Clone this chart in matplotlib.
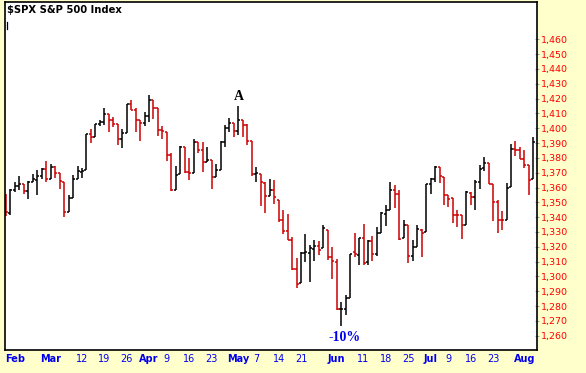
import matplotlib
matplotlib.use('Agg')
import matplotlib.pyplot as plt
from matplotlib.collections import LineCollection

# ---------------- data (S&P 500 daily bars, 2012) ----------------
dates = ['02-15', '02-16', '02-17', '02-21', '02-22', '02-23', '02-24', '02-27', '02-28', '02-29',
         '03-01', '03-02', '03-05', '03-06', '03-07', '03-08', '03-09', '03-12', '03-13', '03-14',
         '03-15', '03-16', '03-19', '03-20', '03-21', '03-22', '03-23', '03-26', '03-27', '03-28',
         '03-29', '03-30', '04-02', '04-03', '04-04', '04-05', '04-09', '04-10', '04-11', '04-12',
         '04-13', '04-16', '04-17', '04-18', '04-19', '04-20', '04-23', '04-24', '04-25', '04-26',
         '04-27', '04-30', '05-01', '05-02', '05-03', '05-04', '05-07', '05-08', '05-09', '05-10',
         '05-11', '05-14', '05-15', '05-16', '05-17', '05-18', '05-21', '05-22', '05-23', '05-24',
         '05-25', '05-29', '05-30', '05-31', '06-01', '06-04', '06-05', '06-06', '06-07', '06-08',
         '06-11', '06-12', '06-13', '06-14', '06-15', '06-18', '06-19', '06-20', '06-21', '06-22',
         '06-25', '06-26', '06-27', '06-28', '06-29', '07-02', '07-03', '07-05', '07-06', '07-09',
         '07-10', '07-11', '07-12', '07-13', '07-16', '07-17', '07-18', '07-19', '07-20', '07-23',
         '07-24', '07-25', '07-26', '07-27', '07-30', '07-31', '08-01', '08-02', '08-03']

opens = [1350.5, 1342.6, 1358.1, 1361.2, 1362.1, 1357.5, 1363.5, 1365.2, 1367.6, 1372.2,
         1365.9, 1374.1, 1369.6, 1363.6, 1343.4, 1352.7, 1366.0, 1370.8, 1371.9, 1396.0,
         1394.2, 1402.6, 1404.2, 1409.6, 1405.5, 1402.9, 1392.8, 1397.1, 1416.6, 1412.5,
         1405.4, 1403.3, 1408.5, 1419.0, 1413.4, 1399.0, 1397.5, 1382.2, 1358.6, 1368.8,
         1387.6, 1370.3, 1369.6, 1390.8, 1385.1, 1376.9, 1378.5, 1366.9, 1372.1, 1390.6,
         1400.2, 1403.3, 1397.9, 1405.5, 1402.3, 1391.5, 1368.8, 1369.2, 1363.2, 1354.6,
         1358.1, 1351.9, 1338.4, 1330.8, 1324.8, 1305.1, 1295.7, 1316.1, 1316.0, 1318.7,
         1320.8, 1318.9, 1331.3, 1313.1, 1309.9, 1278.3, 1277.8, 1285.6, 1316.2, 1314.6,
         1325.7, 1309.4, 1324.0, 1314.9, 1329.2, 1342.4, 1344.8, 1358.0, 1355.4, 1325.9,
         1334.9, 1314.1, 1320.0, 1331.5, 1330.1, 1362.3, 1365.8, 1373.7, 1367.1, 1354.7,
         1353.0, 1341.4, 1341.4, 1334.8, 1356.5, 1353.7, 1363.6, 1373.0, 1376.5, 1362.3,
         1350.5, 1338.4, 1338.2, 1360.1, 1386.0, 1385.3, 1379.3, 1375.1, 1365.5]

highs = [1355.9, 1359.0, 1363.4, 1367.8, 1362.7, 1364.2, 1368.9, 1371.9, 1373.1, 1378.0,
         1376.2, 1374.5, 1369.6, 1363.6, 1354.9, 1368.7, 1374.8, 1373.0, 1396.1, 1399.4,
         1402.6, 1405.9, 1414.0, 1409.6, 1407.8, 1402.9, 1399.2, 1416.6, 1419.2, 1413.7,
         1405.4, 1410.9, 1422.4, 1419.0, 1413.4, 1401.6, 1397.5, 1383.0, 1374.7, 1388.1,
         1387.6, 1379.7, 1392.8, 1390.8, 1390.4, 1387.4, 1378.5, 1375.6, 1391.4, 1402.1,
         1406.6, 1403.3, 1415.3, 1405.5, 1403.1, 1391.5, 1373.9, 1369.2, 1363.7, 1365.9,
         1365.2, 1351.9, 1345.0, 1341.8, 1326.4, 1312.2, 1316.4, 1328.5, 1321.5, 1324.3,
         1324.2, 1334.9, 1331.5, 1319.9, 1311.5, 1282.6, 1287.6, 1315.3, 1329.1, 1325.9,
         1335.6, 1324.3, 1327.3, 1333.6, 1343.3, 1348.2, 1363.5, 1361.6, 1358.3, 1337.8,
         1334.9, 1324.4, 1334.4, 1331.8, 1362.2, 1366.4, 1374.8, 1373.9, 1367.1, 1354.7,
         1352.6, 1345.0, 1341.4, 1357.7, 1357.3, 1365.4, 1375.3, 1380.4, 1376.5, 1362.3,
         1351.5, 1344.0, 1363.1, 1389.2, 1391.7, 1387.2, 1385.0, 1375.4, 1394.2]

lows = [1340.8, 1341.2, 1357.2, 1358.1, 1355.5, 1352.3, 1363.5, 1354.9, 1366.0, 1363.8,
        1365.9, 1366.4, 1359.1, 1340.0, 1343.4, 1352.7, 1366.0, 1366.7, 1371.9, 1390.0,
        1394.2, 1401.5, 1402.4, 1397.7, 1400.6, 1388.7, 1386.9, 1397.1, 1412.0, 1397.2,
        1391.6, 1401.4, 1404.5, 1406.1, 1394.8, 1392.9, 1378.2, 1357.4, 1358.6, 1368.8,
        1369.9, 1365.4, 1369.6, 1383.3, 1370.3, 1377.0, 1358.8, 1366.8, 1372.1, 1387.3,
        1397.3, 1394.0, 1395.7, 1393.9, 1388.7, 1368.0, 1363.9, 1347.8, 1343.1, 1354.6,
        1348.9, 1336.6, 1328.4, 1324.8, 1304.5, 1292.0, 1295.7, 1310.0, 1296.5, 1310.3,
        1314.2, 1318.9, 1311.0, 1298.2, 1277.3, 1266.7, 1274.2, 1285.6, 1313.0, 1307.8,
        1307.7, 1308.0, 1310.4, 1314.0, 1329.2, 1334.3, 1344.8, 1346.5, 1324.4, 1325.9,
        1309.3, 1310.3, 1320.0, 1313.3, 1330.1, 1355.7, 1363.5, 1363.0, 1348.0, 1346.7,
        1336.3, 1333.2, 1325.5, 1334.8, 1348.4, 1345.0, 1359.0, 1371.2, 1362.2, 1337.6,
        1329.2, 1331.5, 1338.2, 1360.1, 1381.4, 1379.2, 1373.4, 1354.7, 1365.5]

closes = [1343.2, 1358.0, 1361.2, 1362.2, 1357.7, 1363.5, 1365.7, 1367.6, 1372.2, 1365.7,
          1374.1, 1369.6, 1364.3, 1343.4, 1352.6, 1365.9, 1370.9, 1371.1, 1396.0, 1394.3,
          1402.6, 1404.2, 1409.8, 1405.5, 1402.9, 1392.8, 1397.1, 1416.5, 1412.5, 1405.5,
          1403.3, 1408.5, 1419.0, 1413.4, 1399.0, 1398.1, 1382.2, 1358.6, 1368.7, 1387.6,
          1370.3, 1369.6, 1390.8, 1385.1, 1376.9, 1378.5, 1366.9, 1372.0, 1390.7, 1400.0,
          1403.4, 1397.9, 1405.8, 1402.3, 1391.6, 1369.1, 1369.6, 1363.7, 1354.6, 1358.0,
          1353.4, 1338.4, 1330.7, 1324.8, 1304.9, 1295.2, 1316.0, 1316.6, 1318.9, 1320.7,
          1317.8, 1332.4, 1313.3, 1310.3, 1278.0, 1278.2, 1285.5, 1315.1, 1315.0, 1325.7,
          1308.9, 1324.2, 1314.9, 1329.1, 1342.8, 1344.8, 1358.0, 1355.7, 1325.5, 1335.0,
          1313.7, 1320.0, 1331.9, 1329.0, 1362.2, 1365.5, 1374.0, 1367.6, 1354.7, 1352.5,
          1341.5, 1341.4, 1334.8, 1356.8, 1353.6, 1363.7, 1372.8, 1376.5, 1362.7, 1350.5,
          1338.3, 1337.9, 1360.0, 1386.0, 1385.3, 1379.3, 1375.3, 1365.0, 1391.0]

tick_dates = ['02-17', '03-01', '03-12', '03-19', '03-26', '04-02', '04-09', '04-16', '04-23',
              '05-01', '05-07', '05-14', '05-21', '06-01', '06-11', '06-18', '06-25', '07-02',
              '07-09', '07-16', '07-23', '08-01']
tick_labels = ['Feb', 'Mar', '12', '19', '26', 'Apr', '9', '16', '23', 'May', '7', '14', '21',
               'Jun', '11', '18', '25', 'Jul', '9', '16', '23', 'Aug']
month_names = ['Feb', 'Mar', 'Apr', 'May', 'Jun', 'Jul', 'Aug']
y_ticks = list(range(1260, 1461, 10))

title = '$SPX S&P 500 Index'
peak_text, peak_date = 'A', '05-01'
trough_text, trough_date = '-10%', '06-04'

# ---------------- figure ----------------
W, H = 586, 373
fig = plt.figure(figsize=(W / 100, H / 100), dpi=100)
fig.patch.set_facecolor('#FFFFCC')

ax = fig.add_axes([4.5 / W, 1 - 350 / H, 532 / W, 348.3 / H])
ax.set_facecolor('white')

UP, DOWN = '#000000', '#CC0000'
tw = 0.45
segs, cols = [], []
for i in range(len(dates)):
    prev = closes[i - 1] if i > 0 else opens[i]
    c = UP if closes[i] >= prev else DOWN
    segs += [[(i, lows[i]), (i, highs[i])],
             [(i - tw, opens[i]), (i, opens[i])],
             [(i, closes[i]), (i + tw, closes[i])]]
    cols += [c, c, c]
ax.add_collection(LineCollection(segs, colors=cols, linewidths=1.1, capstyle='butt'))

ax.set_xlim(-0.34, 118.7)
ax.set_ylim(1250.35, 1485.4)

# x ticks
xpos = [dates.index(d) for d in tick_dates]
ax.set_xticks(xpos)
ax.set_xticklabels(tick_labels)
ax.tick_params(axis='x', length=0, pad=3.2, labelsize=7, labelcolor='#0000EE')
for t in ax.get_xticklabels():
    if t.get_text() in month_names:
        t.set_fontweight('bold')

# y ticks on right
ax.yaxis.tick_right()
ax.set_yticks(y_ticks)
ax.set_yticklabels([f'{v:,}' for v in y_ticks])
ax.tick_params(axis='y', direction='inout', length=3, width=0.8, color='#A0A0A0',
               pad=1.5, labelsize=6.8, labelcolor='#FF0000')

for s in ax.spines.values():
    s.set_color('black')
    s.set_linewidth(1.2)

# title and annotations
fig.text(6.7 / W, 1 - 13.3 / H, title, fontsize=7.2, fontweight='bold', color='black',
         ha='left', va='baseline', parse_math=False)
ax.plot([0.0047, 0.0047], [0.9216, 0.9417], transform=ax.transAxes, color='black', lw=0.9)

pi = dates.index(peak_date)
ax.annotate(peak_text, xy=(pi, highs[pi]), xytext=(0, 1.5), textcoords='offset points',
            ha='center', va='bottom', fontsize=10, fontweight='bold',
            family='Liberation Serif', color='black')
ti = dates.index(trough_date)
ax.annotate(trough_text, xy=(ti, lows[ti]), xytext=(2.5, -4), textcoords='offset points',
            ha='center', va='top', fontsize=10, fontweight='bold',
            family='Liberation Serif', color='#0000EE')

fig.savefig('out.png', dpi=100, facecolor=fig.get_facecolor())
